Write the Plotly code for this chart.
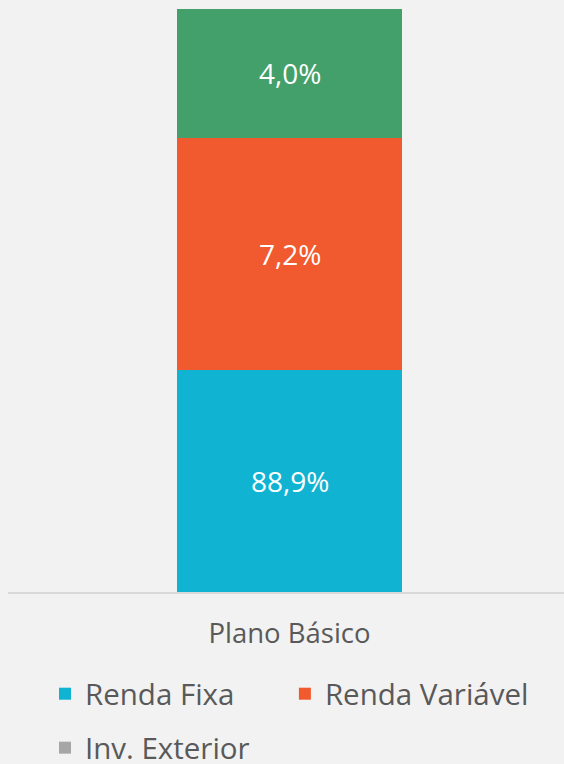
import plotly.graph_objects as go

categories = ["Plano Básico"]
series_names = ["Renda Fixa", "Renda Variável", "Inv. Exterior", "Outros"]
series_values = [[88.9], [7.2], [0.0], [4.0]]
series_colors = ["#10B3D2", "#F15A2F", "#A6A6A6", "#43A06A"]
series_legend = ["legend", "legend3", "legend2", None]
y_range = [82, 100.1]

FONT = "Open Sans"

fig = go.Figure()
cum = [0.0] * len(categories)
annotations = []
for name, vals, col, lg in zip(series_names, series_values, series_colors, series_legend):
    kw = dict(legend=lg) if lg else dict(showlegend=False)
    fig.add_trace(go.Bar(
        x=categories, y=vals, name=name, marker=dict(color=col, line=dict(width=0)),
        width=0.4047, hoverinfo="skip", **kw))
    for i, (c, v) in enumerate(zip(categories, vals)):
        lo, hi = cum[i], cum[i] + v
        if v > 0:
            vis_lo, vis_hi = max(lo, y_range[0]), min(hi, y_range[1])
            annotations.append(dict(
                x=c, y=(vis_lo + vis_hi) / 2, xref="x", yref="y",
                text=f"{v:.1f}%".replace(".", ","), showarrow=False,
                font=dict(color="white", size=28, family=FONT)))
        cum[i] = hi

legend_common = dict(orientation="h", xanchor="left", yanchor="middle",
                     font=dict(size=29.5, color="#595959", family=FONT),
                     bgcolor="rgba(0,0,0,0)")

fig.update_layout(
    width=564, height=764,
    margin=dict(l=8, r=0, t=9, b=172, autoexpand=False),
    paper_bgcolor="#F2F2F2", plot_bgcolor="#F2F2F2",
    barmode="stack", bargap=0,
    font=dict(family=FONT, color="#595959"),
    xaxis=dict(range=[-0.5063, 0.4937], showgrid=False, zeroline=False,
               showline=True, linecolor="#D9D9D9", linewidth=1.5,
               ticks="outside", ticklen=16, tickcolor="rgba(0,0,0,0)",
               tickfont=dict(size=27.5, color="#595959", family=FONT)),
    yaxis=dict(range=y_range, visible=False, showgrid=False, zeroline=False),
    annotations=annotations,
    legend=dict(x=0.0665, y=-0.175, **legend_common),
    legend3=dict(x=0.498, y=-0.175, **legend_common),
    legend2=dict(x=0.0665, y=-0.2676, **legend_common),
)

fig.write_html(
    "out.html",
    config={"displayModeBar": False},
    post_script="document.body.style.margin='0';document.body.style.background='#F2F2F2';",
)
